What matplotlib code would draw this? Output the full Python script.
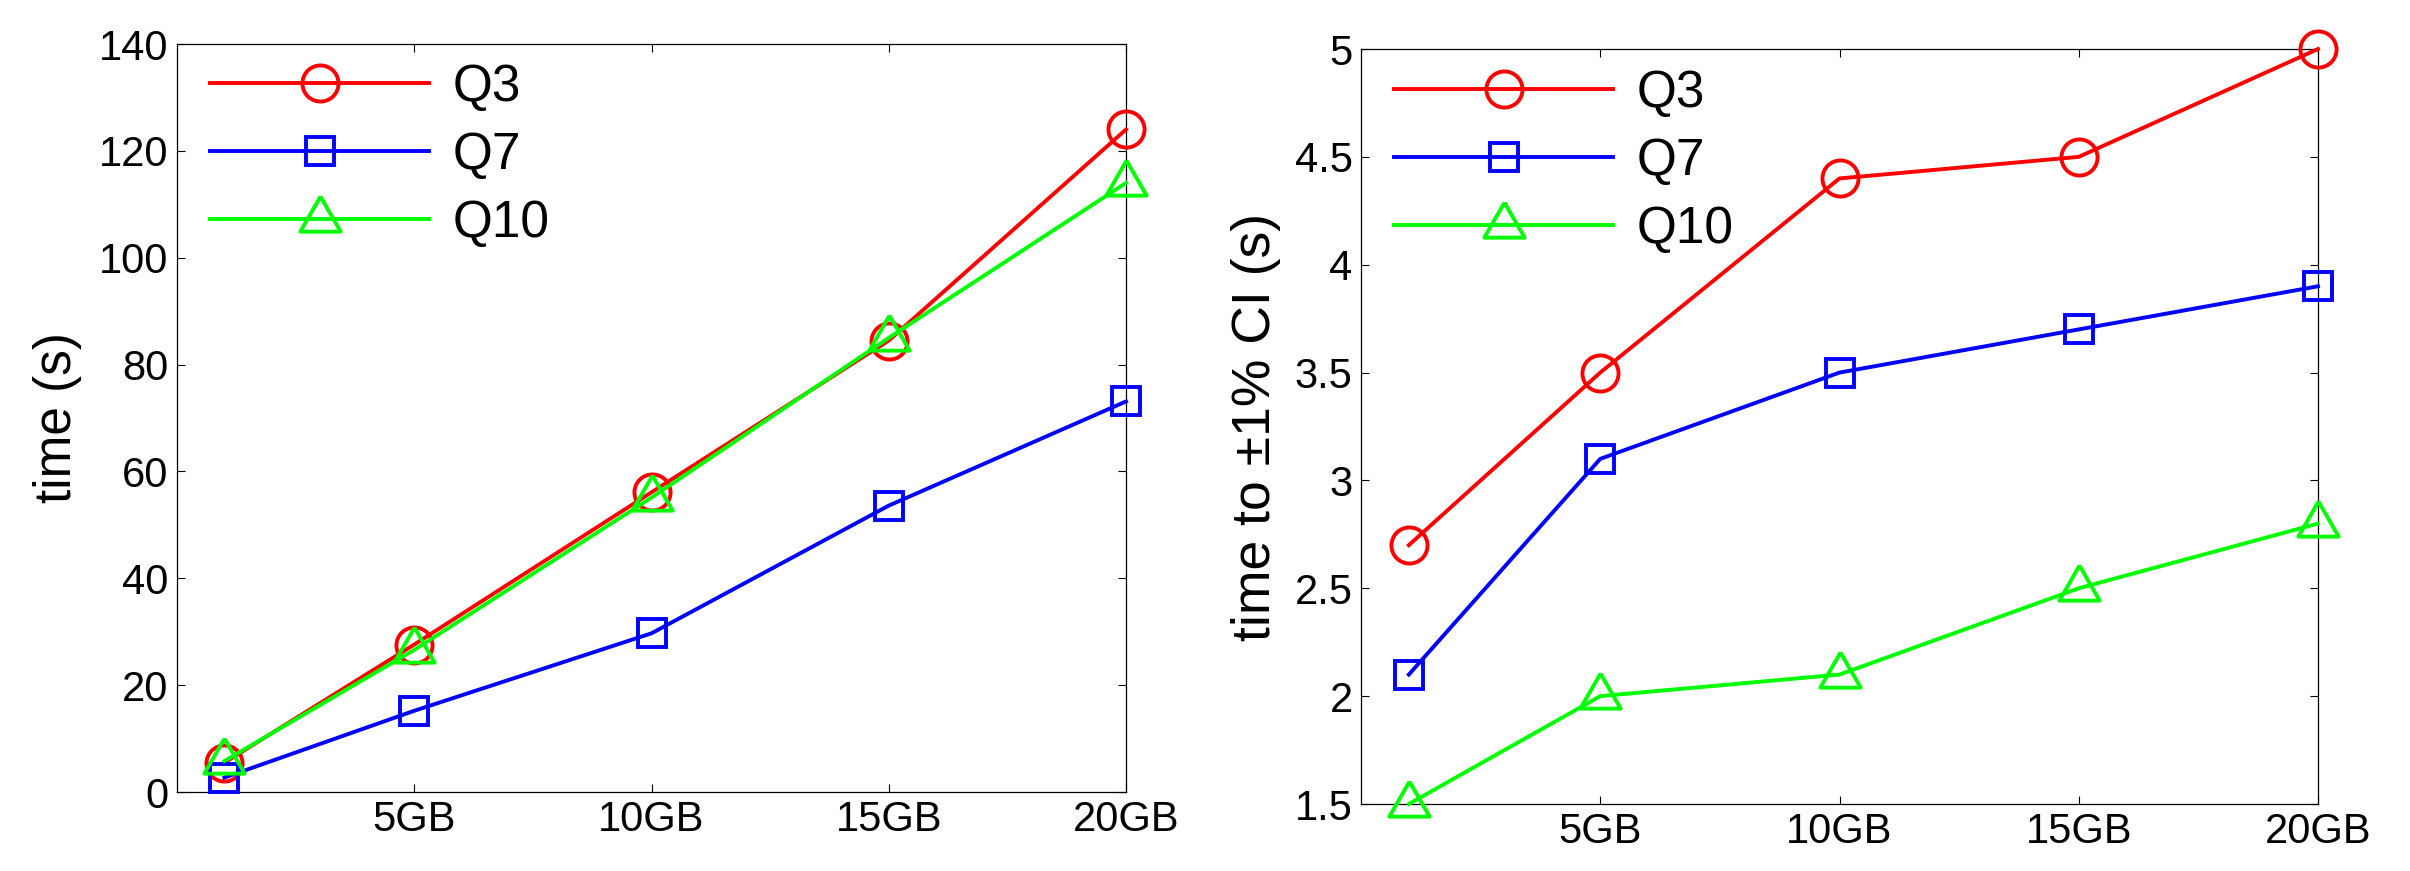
import matplotlib
matplotlib.use("Agg")
import matplotlib.pyplot as plt
import numpy as np

plt.rcParams['font.family'] = ['Liberation Sans', 'DejaVu Sans']

sizes = [1, 5, 10, 15, 20]
xtick_pos = [5, 10, 15, 20]
xtick_labels = ['5GB', '10GB', '15GB', '20GB']

time_q3 = [5.5, 27.6, 56.1, 84.5, 124.0]
time_q7 = [2.7, 15.2, 29.7, 53.6, 73.1]
time_q10 = [5.8, 26.6, 55.1, 85.0, 114.0]

ci_q3 = [2.7, 3.5, 4.4, 4.5, 5.0]
ci_q7 = [2.1, 3.1, 3.5, 3.7, 3.9]
ci_q10 = [1.5, 2.0, 2.1, 2.5, 2.8]

series_names = ['Q3', 'Q7', 'Q10']

tri = [(0, 1.0), (-0.88, -0.53), (0.88, -0.53), (0, 1.0)]
styles = [dict(color='#ff0000', marker='o', ms=26),
          dict(color='#0000ff', marker='s', ms=20),
          dict(color='#00ff00', marker=tri, ms=33)]

fig = plt.figure(figsize=(24.1, 8.71), dpi=100)
ax1 = fig.add_axes([177/2410, 1-792/871, 949/2410, 748/871])
ax2 = fig.add_axes([1361/2410, 1-804/871, 957/2410, 755/871])


def draw(ax, data, ylim, yticks, yticklabels, ylabel, labelx, legy, ylsize):
    for vals, name, st in zip(data, series_names, styles):
        ax.plot(sizes, vals, color=st['color'], marker=st['marker'], ms=st['ms'],
                lw=2.8, mew=2.8, mfc='none', mec=st['color'], label=name,
                clip_on=False, zorder=3)
    ax.set_xlim(0, 20)
    ax.set_ylim(*ylim)
    ax.set_xticks(xtick_pos)
    ax.set_xticklabels(xtick_labels)
    ax.set_yticks(yticks)
    ax.set_yticklabels(yticklabels)
    ax.tick_params(direction='in', length=6, width=0.8, top=True, right=True,
                   labelsize=30, pad=6)
    for s in ax.spines.values():
        s.set_linewidth(0.9)
    ax.set_ylabel(ylabel, fontsize=ylsize)
    ax.yaxis.set_label_coords(labelx, 0.5)
    ax.legend(loc='upper left', bbox_to_anchor=(0.035, legy), frameon=False,
              fontsize=37, handlelength=4.26, handletextpad=0.45,
              labelspacing=0.37, borderpad=0, borderaxespad=0, numpoints=1)


draw(ax1, [time_q3, time_q7, time_q10], (0, 140), np.arange(0, 141, 20),
     [str(v) for v in range(0, 141, 20)], 'time (s)', -0.100, 0.974, 37)
draw(ax2, [ci_q3, ci_q7, ci_q10], (1.5, 5), [1.5, 2, 2.5, 3, 3.5, 4, 4.5, 5],
     ['1.5', '2', '2.5', '3', '3.5', '4', '4.5', '5'], 'time to ±1% CI (s)', -0.084, 0.973, 38.5)

fig.savefig('out.png', dpi=100)
